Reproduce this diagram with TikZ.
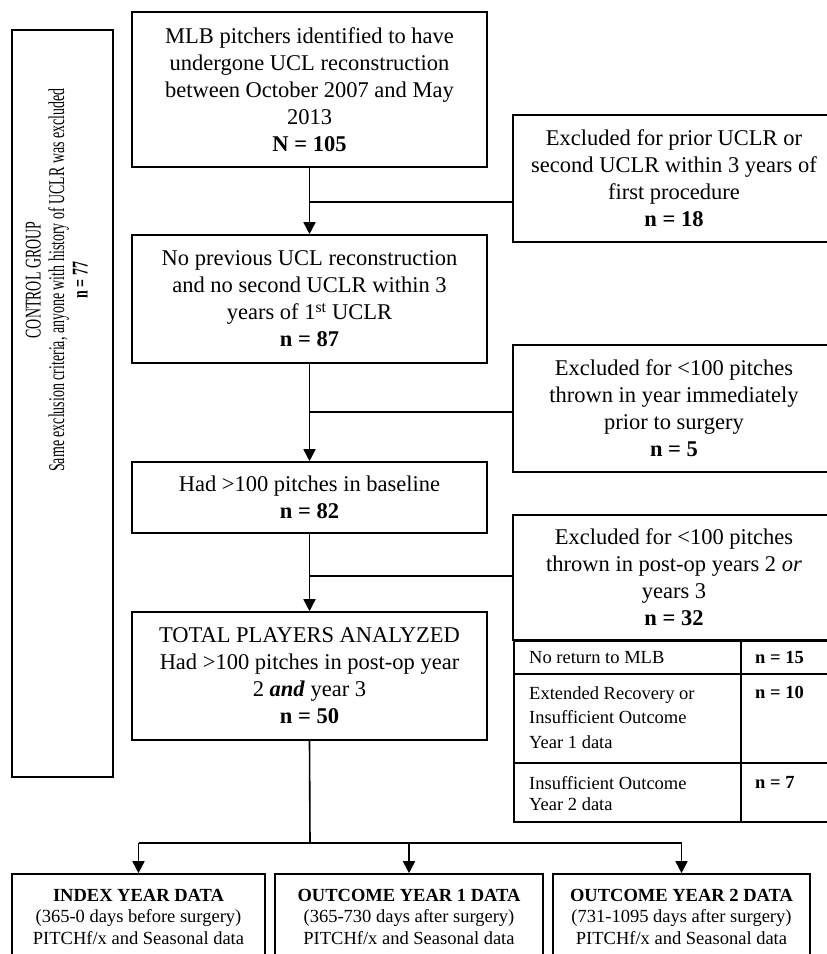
\documentclass[tikz,border=0pt]{standalone}
\usepackage{fontspec}
\setmainfont{Liberation Serif}
\usetikzlibrary{arrows.meta}
\begin{document}
\begin{tikzpicture}[x=1pt,y=-1pt,
  box/.style={draw, line width=1.6pt, inner sep=0pt, align=center, font=\fontsize{22.5}{27}\selectfont},
  bbox/.style={draw, line width=1.6pt, inner sep=0pt, align=center, font=\fontsize{18.5}{21.5}\selectfont},
  cell/.style={draw, line width=1.6pt, inner sep=0pt, anchor=north west},
  ctext/.style={inner sep=0pt, align=left, font=\fontsize{18.5}{24.5}\selectfont},
  link/.style={line width=1.6pt},
  arr/.style={line width=1.6pt, -{Triangle[width=12pt,length=12pt]}},
]
\useasboundingbox (0,0) rectangle (827,954);
\clip (0,0) rectangle (827,954);

% control group
\node[draw, line width=1.6pt, minimum width=101, minimum height=747, inner sep=0pt] (ctrl) at (62.5,403.5) {};
\node[rotate=90, inner sep=0pt] (ctrltext) at (59.5,280) {\scalebox{0.62}[1]{\fontsize{22.5}{23.5}\selectfont\begin{tabular}{@{}c@{}}CONTROL GROUP\\ Same exclusion criteria, anyone with history of UCLR was excluded\\ \textbf{n = 77}\end{tabular}}};

% main column
\node[box, minimum width=355, minimum height=155] (n105) at (309.5,89.5) {MLB pitchers identified to have\\ undergone UCL reconstruction\\ between October 2007 and May\\ 2013\\ \textbf{N = 105}};
\node[box, minimum width=355, minimum height=128] (n87) at (309.5,299) {No previous UCL reconstruction\\ and no second UCLR within 3\\ years of 1\textsuperscript{st} UCLR\\ \textbf{n = 87}};
\node[box, minimum width=355, minimum height=71] (n82) at (309.5,497.5) {Had {>}100 pitches in baseline\\ \textbf{n = 82}};
\node[box, minimum width=355, minimum height=128] (n50) at (309.5,676) {TOTAL PLAYERS ANALYZED\\ Had {>}100 pitches in post-op year\\ 2 \textbf{\textit{and}} year 3\\ \textbf{n = 50}};

% excluded boxes
\node[box, minimum width=322, minimum height=127] (ex1) at (674,178.5) {Excluded for prior UCLR or\\ second UCLR within 3 years of\\ first procedure\\ \textbf{n = 18}};
\node[box, minimum width=322, minimum height=127] (ex2) at (674,408.5) {Excluded for {<}100 pitches\\ thrown in year immediately\\ prior to surgery\\ \textbf{n = 5}};
\node[box, minimum width=322, minimum height=125] (ex3) at (674,577.5) {Excluded for {<}100 pitches\\ thrown in post-op years 2 \textit{or}\\ years 3\\ \textbf{n = 32}};

% table cells
\node[cell, minimum width=227, minimum height=33] (r1a) at (513,640) {};
\node[cell, minimum width=95, minimum height=33] (r1b) at (740,640) {};
\node[cell, minimum width=227, minimum height=89] (r2a) at (513,673) {};
\node[cell, minimum width=95, minimum height=89] (r2b) at (740,673) {};
\node[cell, minimum width=227, minimum height=59] (r3a) at (513,762) {};
\node[cell, minimum width=95, minimum height=59] (r3b) at (740,762) {};
\node[ctext, anchor=base west] (t1a) at (529,663) {No return to MLB};
\node[ctext, anchor=base west] (t1b) at (755,663) {\textbf{n = 15}};
\node[ctext, anchor=north west] (t2a) at (529,686) {Extended Recovery or\\ Insufficient Outcome\\ Year 1 data};
\node[ctext, anchor=north west] (t2b) at (755,686) {\textbf{n = 10}};
\node[ctext, anchor=north west, font=\fontsize{18.5}{21}\selectfont] (t3a) at (529,776) {Insufficient Outcome\\ Year 2 data};
\node[ctext, anchor=north west] (t3b) at (755,776) {\textbf{n = 7}};

% bottom boxes
\node[bbox, minimum width=253, minimum height=85] (bx1) at (138.5,916.5) {\textbf{INDEX YEAR DATA}\\ (365-0 days before surgery)\\ PITCHf/x and Seasonal data};
\node[bbox, minimum width=268, minimum height=85] (bx2) at (409,916.5) {\textbf{OUTCOME YEAR 1 DATA}\\ (365-730 days after surgery)\\ PITCHf/x and Seasonal data};
\node[bbox, minimum width=257, minimum height=85] (bx3) at (681.5,916.5) {\textbf{OUTCOME YEAR 2 DATA}\\ (731-1095 days after surgery)\\ PITCHf/x and Seasonal data};

% connectors
\draw[arr] (n105.south) -- (n87.north);
\coordinate (j1) at (310,202);
\draw[link] (j1) -- (j1 -| ex1.west);
\draw[arr] (n87.south) -- (n82.north);
\coordinate (j2) at (310,412);
\draw[link] (j2) -- (j2 -| ex2.west);
\draw[arr] (n82.south) -- (n50.north);
\coordinate (j3) at (310,576);
\draw[link] (j3) -- (j3 -| ex3.west);
\coordinate (br) at (310,843);
\draw[link] (n50.south) -- (br);
\draw[link] (bx1.north |- br) -- (bx3.north |- br);
\draw[arr] (bx1.north |- br) -- (bx1.north);
\draw[arr] (bx2.north |- br) -- (bx2.north);
\draw[arr] (bx3.north |- br) -- (bx3.north);
\end{tikzpicture}
\end{document}
